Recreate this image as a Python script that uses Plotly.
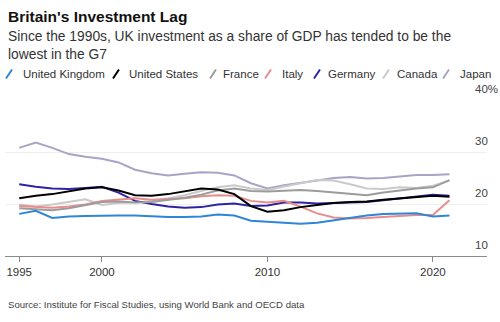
import plotly.graph_objects as go

# Gross investment as a share of GDP (%), G7 economies
years = list(range(1995, 2022))

united_kingdom = [18.1, 18.7, 17.3, 17.6, 17.7, 17.8, 17.8, 17.8, 17.6, 17.5, 17.5, 17.6, 18.0, 17.8,
                  16.8, 16.6, 16.3, 16.2, 16.4, 16.9, 17.4, 17.8, 18.1, 18.1, 18.2, 17.6, 17.8]
united_states = [21.1, 21.6, 21.9, 22.4, 23.0, 23.2, 22.6, 21.7, 21.6, 21.9, 22.5, 23.0, 22.8, 21.9,
                 19.6, 18.5, 18.8, 19.4, 19.8, 20.2, 20.4, 20.5, 20.8, 21.1, 21.3, 21.6, 21.4]
france = [19.2, 19.0, 18.8, 19.2, 19.8, 20.4, 20.5, 20.3, 20.4, 20.8, 21.2, 21.8, 22.6, 23.0,
          22.5, 22.4, 22.6, 22.7, 22.5, 22.2, 21.9, 21.7, 22.2, 22.6, 23.0, 23.2, 24.6]
italy = [19.6, 19.4, 19.3, 19.5, 19.9, 20.6, 20.8, 21.1, 20.8, 20.9, 21.1, 21.5, 21.7, 21.6,
         20.6, 20.3, 20.6, 19.5, 18.2, 17.4, 17.2, 17.3, 17.5, 17.8, 17.9, 17.9, 20.7]
germany = [23.8, 23.3, 23.0, 22.9, 23.1, 23.3, 22.2, 20.6, 20.0, 19.5, 19.3, 19.4, 19.9, 20.1,
           19.6, 19.7, 20.3, 20.3, 20.1, 20.2, 20.2, 20.4, 20.7, 21.1, 21.4, 21.8, 21.6]
canada = [19.9, 19.5, 19.9, 20.4, 20.9, 19.8, 20.2, 20.3, 20.6, 21.1, 21.7, 22.5, 23.2, 23.6,
          23.0, 22.7, 23.4, 24.0, 24.6, 24.5, 23.8, 23.0, 22.9, 23.2, 23.1, 23.5, 24.5]
japan = [30.8, 31.8, 30.8, 29.6, 29.1, 28.7, 28.0, 26.6, 25.9, 25.5, 25.8, 26.1, 26.0, 25.5,
         24.0, 23.0, 23.6, 24.0, 24.5, 25.0, 25.2, 24.9, 25.0, 25.3, 25.6, 25.6, 25.7]

country_names = ["United Kingdom", "United States", "France", "Italy", "Germany", "Canada", "Japan"]
country_values = [united_kingdom, united_states, france, italy, germany, canada, japan]
country_colors = ["#2f86d8", "#000000", "#9c9c9c", "#e98c8c", "#2e23a3", "#cacaca", "#a9a4c6"]

x_ticks = [1995, 2000, 2010, 2020]
y_ticks = [10, 20, 30, 40]
y_tick_text = ["10", "20", "30", "40%"]

FONT = "Liberation Sans, Arial, sans-serif"
W, H = 500, 322
ML, MR, MT, MB = 5, 13, 100, 66

fig = go.Figure()

# first-listed series drawn last so it sits on top
for name, vals, col in reversed(list(zip(country_names, country_values, country_colors))):
    fig.add_trace(go.Scatter(
        x=years, y=vals, mode="lines", name=name,
        line=dict(color=col, width=2), showlegend=False,
        hoverinfo="skip",
    ))

annotations = []
shapes = []

# title / subtitle / source
annotations.append(dict(
    text="<b>Britain's Investment Lag</b>", xref="paper", yref="paper",
    x=-ML / (W - ML - MR) + 6 / (W - ML - MR) - 0.0, y=1, yshift=MT - 6,
    xanchor="left", yanchor="top", showarrow=False,
    font=dict(family=FONT, size=15.5, color="#111111"),
))
annotations.append(dict(
    text="Since the 1990s, UK investment as a share of GDP has tended to be the<br>lowest in the G7",
    xref="paper", yref="paper", x=1 / (W - ML - MR), y=1, yshift=MT - 27,
    xanchor="left", yanchor="top", align="left", showarrow=False,
    font=dict(family=FONT, size=13.8, color="#333333"),
))
annotations.append(dict(
    text="Source: Institute for Fiscal Studies, using World Bank and OECD data",
    xref="paper", yref="paper", x=1 / (W - ML - MR), y=0, yshift=-(304 - (H - MB)),
    xanchor="left", yanchor="middle", showarrow=False,
    font=dict(family=FONT, size=9.6, color="#444444"),
))

# legend built from slanted strokes and labels
legend_icon_x = [6, 113, 210, 265, 314, 383, 443]
legend_text_x = [21, 127, 221, 280, 326, 395, 458]
legend_y = 74
pw = W - ML - MR
ph = H - MT - MB
for name, col, ix, tx in zip(country_names, country_colors, legend_icon_x, legend_text_x):
    shapes.append(dict(
        type="line", xref="paper", yref="paper",
        x0=(ix - ML) / pw, x1=(ix + 6 - ML) / pw,
        y0=1 + (MT - (legend_y + 4.5)) / ph, y1=1 + (MT - (legend_y - 4.5)) / ph,
        line=dict(color=col, width=2),
    ))
    annotations.append(dict(
        text=name, xref="paper", yref="paper",
        x=(tx - ML) / pw, y=1 + (MT - legend_y) / ph,
        xanchor="left", yanchor="middle", showarrow=False,
        font=dict(family=FONT, size=11.5, color="#333333"),
    ))

# y labels sit above their gridlines on the right
for v, t in zip(y_ticks, y_tick_text):
    annotations.append(dict(
        text=t, xref="paper", yref="y", x=(473 - ML) / pw, y=v, yshift=11,
        xanchor="left", yanchor="middle", showarrow=False,
        font=dict(family=FONT, size=11.5, color="#444444"),
    ))

fig.update_layout(
    width=W, height=H,
    margin=dict(l=ML, r=MR, t=MT, b=MB, pad=0),
    paper_bgcolor="white", plot_bgcolor="white",
    showlegend=False,
    annotations=annotations, shapes=shapes,
    xaxis=dict(
        range=[1994.14, 2023.27], tickvals=x_ticks, ticktext=[str(v) for v in x_ticks],
        showgrid=False, zeroline=False,
        showline=True, linecolor="#8a8a8a", linewidth=1,
        ticks="outside", ticklen=5, tickcolor="#8a8a8a", tickwidth=1,
        tickfont=dict(family=FONT, size=11.5, color="#333333"),
    ),
    yaxis=dict(
        range=[10, 40], tickvals=y_ticks, showticklabels=False,
        showgrid=True, gridcolor="#efefef", gridwidth=1,
        zeroline=False, showline=False, ticks="",
    ),
)

fig.write_html("out.html")
